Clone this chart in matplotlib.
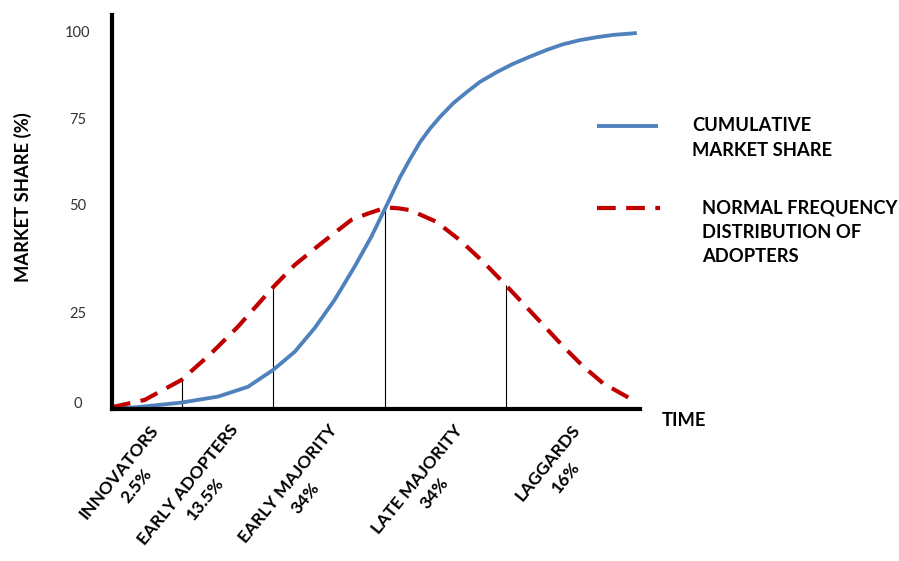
import matplotlib
matplotlib.use("Agg")
import matplotlib.pyplot as plt
from matplotlib.lines import Line2D
from matplotlib.transforms import blended_transform_factory
import numpy as np

# cumulative market share (time in % of the period, share in %)
cum_time = [0, 5.6, 13.2, 20.2, 25.9, 30.7, 34.8, 38.6, 42.4, 46.2, 49.4, 52.2,
            54.9, 56.8, 58.7, 60.6, 62.5, 65.0, 67.6, 70.1, 73.3, 76.4, 79.6,
            82.8, 85.9, 89.1, 92.4, 95.5, 100.0]
cum_share = [0, 0.6, 1.7, 3.3, 5.9, 10.4, 15.2, 21.5, 29.0, 37.8, 45.8, 53.8,
             61.7, 66.5, 71.0, 74.6, 77.7, 81.3, 84.3, 87.0, 89.6, 91.8, 93.7,
             95.5, 97.0, 98.1, 98.9, 99.5, 100.0]

# normal frequency distribution of adopters
freq_time = [0, 6.2, 13.2, 18.9, 24.0, 30.7, 34.8, 39.9, 45.6, 48.8, 52.2, 54.5,
             56.8, 61.8, 66.3, 70.7, 75.0, 78.3, 82.2, 86.0, 89.8, 93.6, 98.7]
freq_share = [0.5, 2.4, 7.7, 14.8, 21.9, 32.4, 38.3, 44.1, 50.3, 52.0, 53.6, 53.4,
              52.9, 49.8, 44.9, 39.2, 33.0, 28.1, 22.3, 16.6, 11.3, 6.8, 2.8]

# category boundaries on the time axis
boundaries = [13.3, 30.7, 52.1, 75.0]

groups = ["INNOVATORS", "EARLY ADOPTERS", "EARLY MAJORITY", "LATE MAJORITY", "LAGGARDS"]
group_pct = ["2.5%", "13.5%", "34%", "34%", "16%"]
group_label_x = [7.1, 22.2, 41.2, 65.0, 87.5]

tick_labels = ["0", "25", "50", "75", "100"]
tick_pos = [1.6, 25.8, 54.5, 77.4, 100.3]

BLUE = "#4F81BD"
RED = "#C00000"
FONT = "Lato"
FS = 13.2

W, H = 899, 561
fig = plt.figure(figsize=(W / 100, H / 100), dpi=100)
ax = fig.add_axes([112 / W, (H - 409) / H, 528 / W, 394 / H])

ax.plot(cum_time, cum_share, color=BLUE, lw=2.75, solid_capstyle="butt", clip_on=False, zorder=3)
ax.plot(freq_time, freq_share, color=RED, lw=3, linestyle=(0, (4.5, 2.5)),
        dash_capstyle="butt", clip_on=False, zorder=4)

tops = np.interp(boundaries, freq_time, freq_share)
ax.vlines(boundaries, 0, tops, color="black", lw=0.8, zorder=2)

ax.set_xlim(0, 100.6)
ax.set_ylim(0, 104.8)
for side in ["top", "right"]:
    ax.spines[side].set_visible(False)
for side in ["left", "bottom"]:
    ax.spines[side].set_linewidth(3)
    ax.spines[side].set_zorder(5)

ax.set_xticks([])
ax.set_yticks(tick_pos, tick_labels)
ax.tick_params(axis="y", length=0, pad=24.5, labelsize=10.5, labelcolor="#333333")
for lbl in ax.get_yticklabels():
    lbl.set_horizontalalignment("center")
    lbl.set_fontfamily(FONT)

trans = blended_transform_factory(ax.transData, ax.transAxes)
for x, name, pct in zip(group_label_x, groups, group_pct):
    ax.text(x, -0.033, name + "\n" + pct, transform=trans, rotation=51,
            rotation_mode="anchor", ha="right", va="top", multialignment="center",
            fontsize=12.6, fontweight="bold", family=FONT, linespacing=1.5)

fig.text(23 / W, 1 - 197 / H, "MARKET SHARE (%)", rotation=90, ha="center", va="center",
         fontsize=FS, fontweight="bold", family=FONT)
fig.text(662 / W, 1 - 420 / H, "TIME", ha="left", va="center",
         fontsize=FS, fontweight="bold", family=FONT)

# legend
fig.add_artist(Line2D([597 / W, 658 / W], [1 - 126 / H, 1 - 126 / H], color=BLUE, lw=2.75,
                      solid_capstyle="butt"))
fig.add_artist(Line2D([597 / W, 660 / W], [1 - 208 / H, 1 - 208 / H], color=RED, lw=3,
                      linestyle=(0, (4.5, 2.5)), dash_capstyle="butt"))
fig.text(692 / W, 1 - 138 / H, "CUMULATIVE\nMARKET SHARE", ha="left", va="center",
         fontsize=FS, fontweight="bold", family=FONT, linespacing=1.6)
fig.text(702 / W, 1 - 232.5 / H, "NORMAL FREQUENCY\nDISTRIBUTION OF\nADOPTERS", ha="left",
         va="center", fontsize=FS, fontweight="bold", family=FONT, linespacing=1.5)

fig.savefig("out.png", dpi=100)
